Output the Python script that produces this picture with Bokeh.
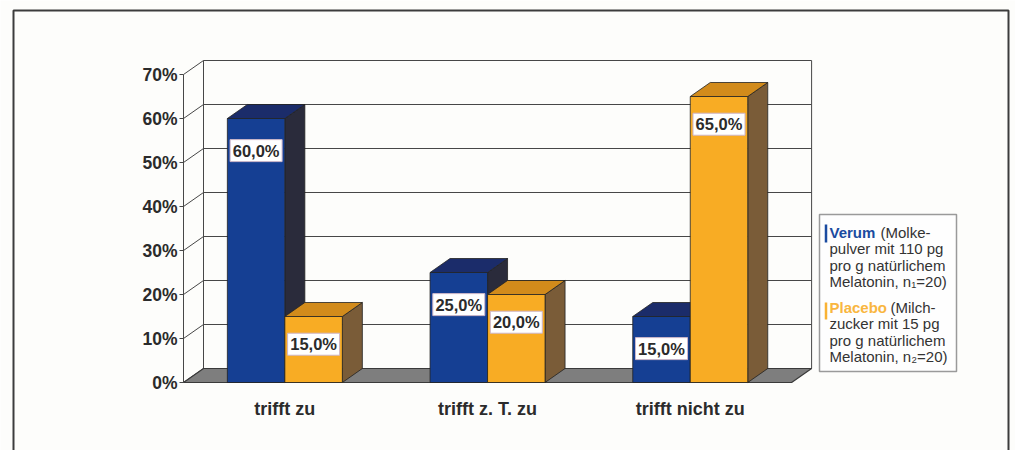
from bokeh.plotting import figure
from bokeh.models import Range1d
from bokeh.core.properties import value
from bokeh.embed import file_html
from bokeh.resources import INLINE

# ---- data ----
categories = ["trifft zu", "trifft z. T. zu", "trifft nicht zu"]
verum = [60.0, 25.0, 15.0]
placebo = [15.0, 20.0, 65.0]
y_ticks = [0, 10, 20, 30, 40, 50, 60, 70]
y_tick_labels = ["0%", "10%", "20%", "30%", "40%", "50%", "60%", "70%"]
legend_verum = ["(Molke-", "pulver mit 110 pg", "pro g natürlichem", "Melatonin, n\u2081=20)"]
legend_placebo = ["(Milch-", "zucker mit 15 pg", "pro g natürlichem", "Melatonin, n\u2082=20)"]

FONT = value("Liberation Sans")
W, H = 1015, 450

# layout helpers: map reference pixel positions to data units
PX_PER_CAT = 202.7
PX_PER_PCT = 4.4
AX_X, AX_Y = 183.0, 382.0
def X(px):
    return (px - AX_X) / PX_PER_CAT
def Y(py):
    return (AX_Y - py) / PX_PER_PCT

dx = 20 / PX_PER_CAT      # depth offset (category units)
dy = 14 / PX_PER_PCT      # depth offset (percent)
bw = 57.5 / PX_PER_CAT    # bar width
ymax = y_ticks[-1]
ncat = len(categories)

p = figure(width=W, height=H, output_backend="svg", toolbar_location=None,
           x_range=Range1d(X(0), X(W)), y_range=Range1d(Y(H), Y(0)),
           x_axis_type=None, y_axis_type=None, min_border=0,
           background_fill_color="#fdfdfb", border_fill_color="#fdfdfb",
           outline_line_color=None)
p.grid.visible = False

GRID = "#474747"
# back wall gridlines
p.segment(x0=[dx] * len(y_ticks), y0=[v + dy for v in y_ticks],
          x1=[ncat + dx] * len(y_ticks), y1=[v + dy for v in y_ticks],
          line_color=GRID, line_width=1)
# left wall diagonals
p.segment(x0=[0] * len(y_ticks), y0=y_ticks,
          x1=[dx] * len(y_ticks), y1=[v + dy for v in y_ticks],
          line_color=GRID, line_width=1)
# wall verticals
p.segment(x0=[0, dx, ncat + dx], y0=[0, dy, dy], x1=[0, dx, ncat + dx],
          y1=[ymax, ymax + dy, ymax + dy], line_color=GRID, line_width=1)
# tick marks
p.segment(x0=[-4 / PX_PER_CAT] * len(y_ticks), y0=y_ticks,
          x1=[0] * len(y_ticks), y1=y_ticks, line_color=GRID, line_width=1)
# floor
p.patch(x=[0, ncat, ncat + dx, dx], y=[0, 0, dy, dy], fill_color="#7e7e7e",
        line_color="#3a3a3a", line_width=1.2)

def bars3d(x0s, vals, front, top, side):
    x1s = [a + bw for a in x0s]
    p.patches(xs=[[b, b + dx, b + dx, b] for b in x1s],
              ys=[[0, dy, v + dy, v] for v in vals],
              fill_color=side, line_color="#222222", line_width=0.8)
    p.patches(xs=[[a, b, b + dx, a + dx] for a, b in zip(x0s, x1s)],
              ys=[[v, v, v + dy, v + dy] for v in vals],
              fill_color=top, line_color="#222222", line_width=0.8)
    p.quad(left=x0s, right=x1s, bottom=[0] * len(vals), top=vals,
           fill_color=front, line_color="#222222", line_width=0.8)

centers = [i + 0.5 for i in range(ncat)]
bars3d([c - bw for c in centers], verum, "#153f93", "#1b2c6a", "#2a2b3b")
bars3d(centers, placebo, "#f8ac24", "#d28b1b", "#7a5c38")

# value labels
def fmt(v):
    return ("%.1f" % v).replace(".", ",") + "%"

lab_x = [c - bw / 2 for c in centers] + [c + bw / 2 for c in centers]
lab_y = [v - 7.3 for v in verum] + [v - 6.3 for v in placebo]
lab_t = [fmt(v) for v in verum] + [fmt(v) for v in placebo]
p.rect(x=lab_x, y=lab_y, width=52, height=22, width_units="screen",
       height_units="screen", fill_color="white", line_color="#cdb6c8",
       line_width=1)
p.text(x=lab_x, y=lab_y, text=lab_t, text_font=FONT, text_font_size="16.5px",
       text_font_style="bold", text_color="#2b2b2b", text_align="center",
       text_baseline="middle")

# y tick labels
p.text(x=[X(177)] * len(y_ticks), y=y_ticks, text=y_tick_labels, text_font=FONT,
       text_font_size="17.5px", text_font_style="bold", text_color="#2b2b2b",
       text_align="right", text_baseline="middle")

# category labels
p.text(x=centers, y=[Y(408)] * ncat, text=categories, text_font=FONT,
       text_font_size="18px", text_font_style="bold", text_color="#2b2b2b",
       text_align="center", text_baseline="middle")

# legend box
p.quad(left=[X(819)], right=[X(956)], top=[Y(214)], bottom=[Y(371)],
       fill_color="#fefefe", line_color="#9a9a9a", line_width=1.5)
p.segment(x0=[X(825.5), X(825.5)], y0=[Y(224), Y(302)],
          x1=[X(825.5), X(825.5)], y1=[Y(242), Y(319)],
          line_color=["#1a4ba0", "#f9b233"], line_width=2.5)
step = 16.3
p.text(x=[X(829)], y=[Y(232)], text=["Verum"], text_font=FONT,
       text_font_size="15px", text_font_style="bold", text_color="#1a4ba0",
       text_baseline="middle")
p.text(x=[X(829)], y=[Y(307)], text=["Placebo"], text_font=FONT,
       text_font_size="15px", text_font_style="bold", text_color="#f9b640",
       text_baseline="middle")
lx = [X(880), X(829), X(829), X(829), X(890), X(829), X(829), X(829)]
ly = [Y(232 + i * step) for i in range(4)] + [Y(307 + i * step) for i in range(4)]
p.text(x=lx, y=ly, text=legend_verum + legend_placebo, text_font=FONT,
       text_font_size="15px", text_color="#333333", text_baseline="middle")

# outer frame
p.multi_line(xs=[[X(13), X(13), X(1008), X(1008)]],
             ys=[[Y(H), Y(10), Y(10), Y(H)]],
             line_color="#3c3c3c", line_width=2)

open("out.html", "w").write(file_html(p, INLINE))
